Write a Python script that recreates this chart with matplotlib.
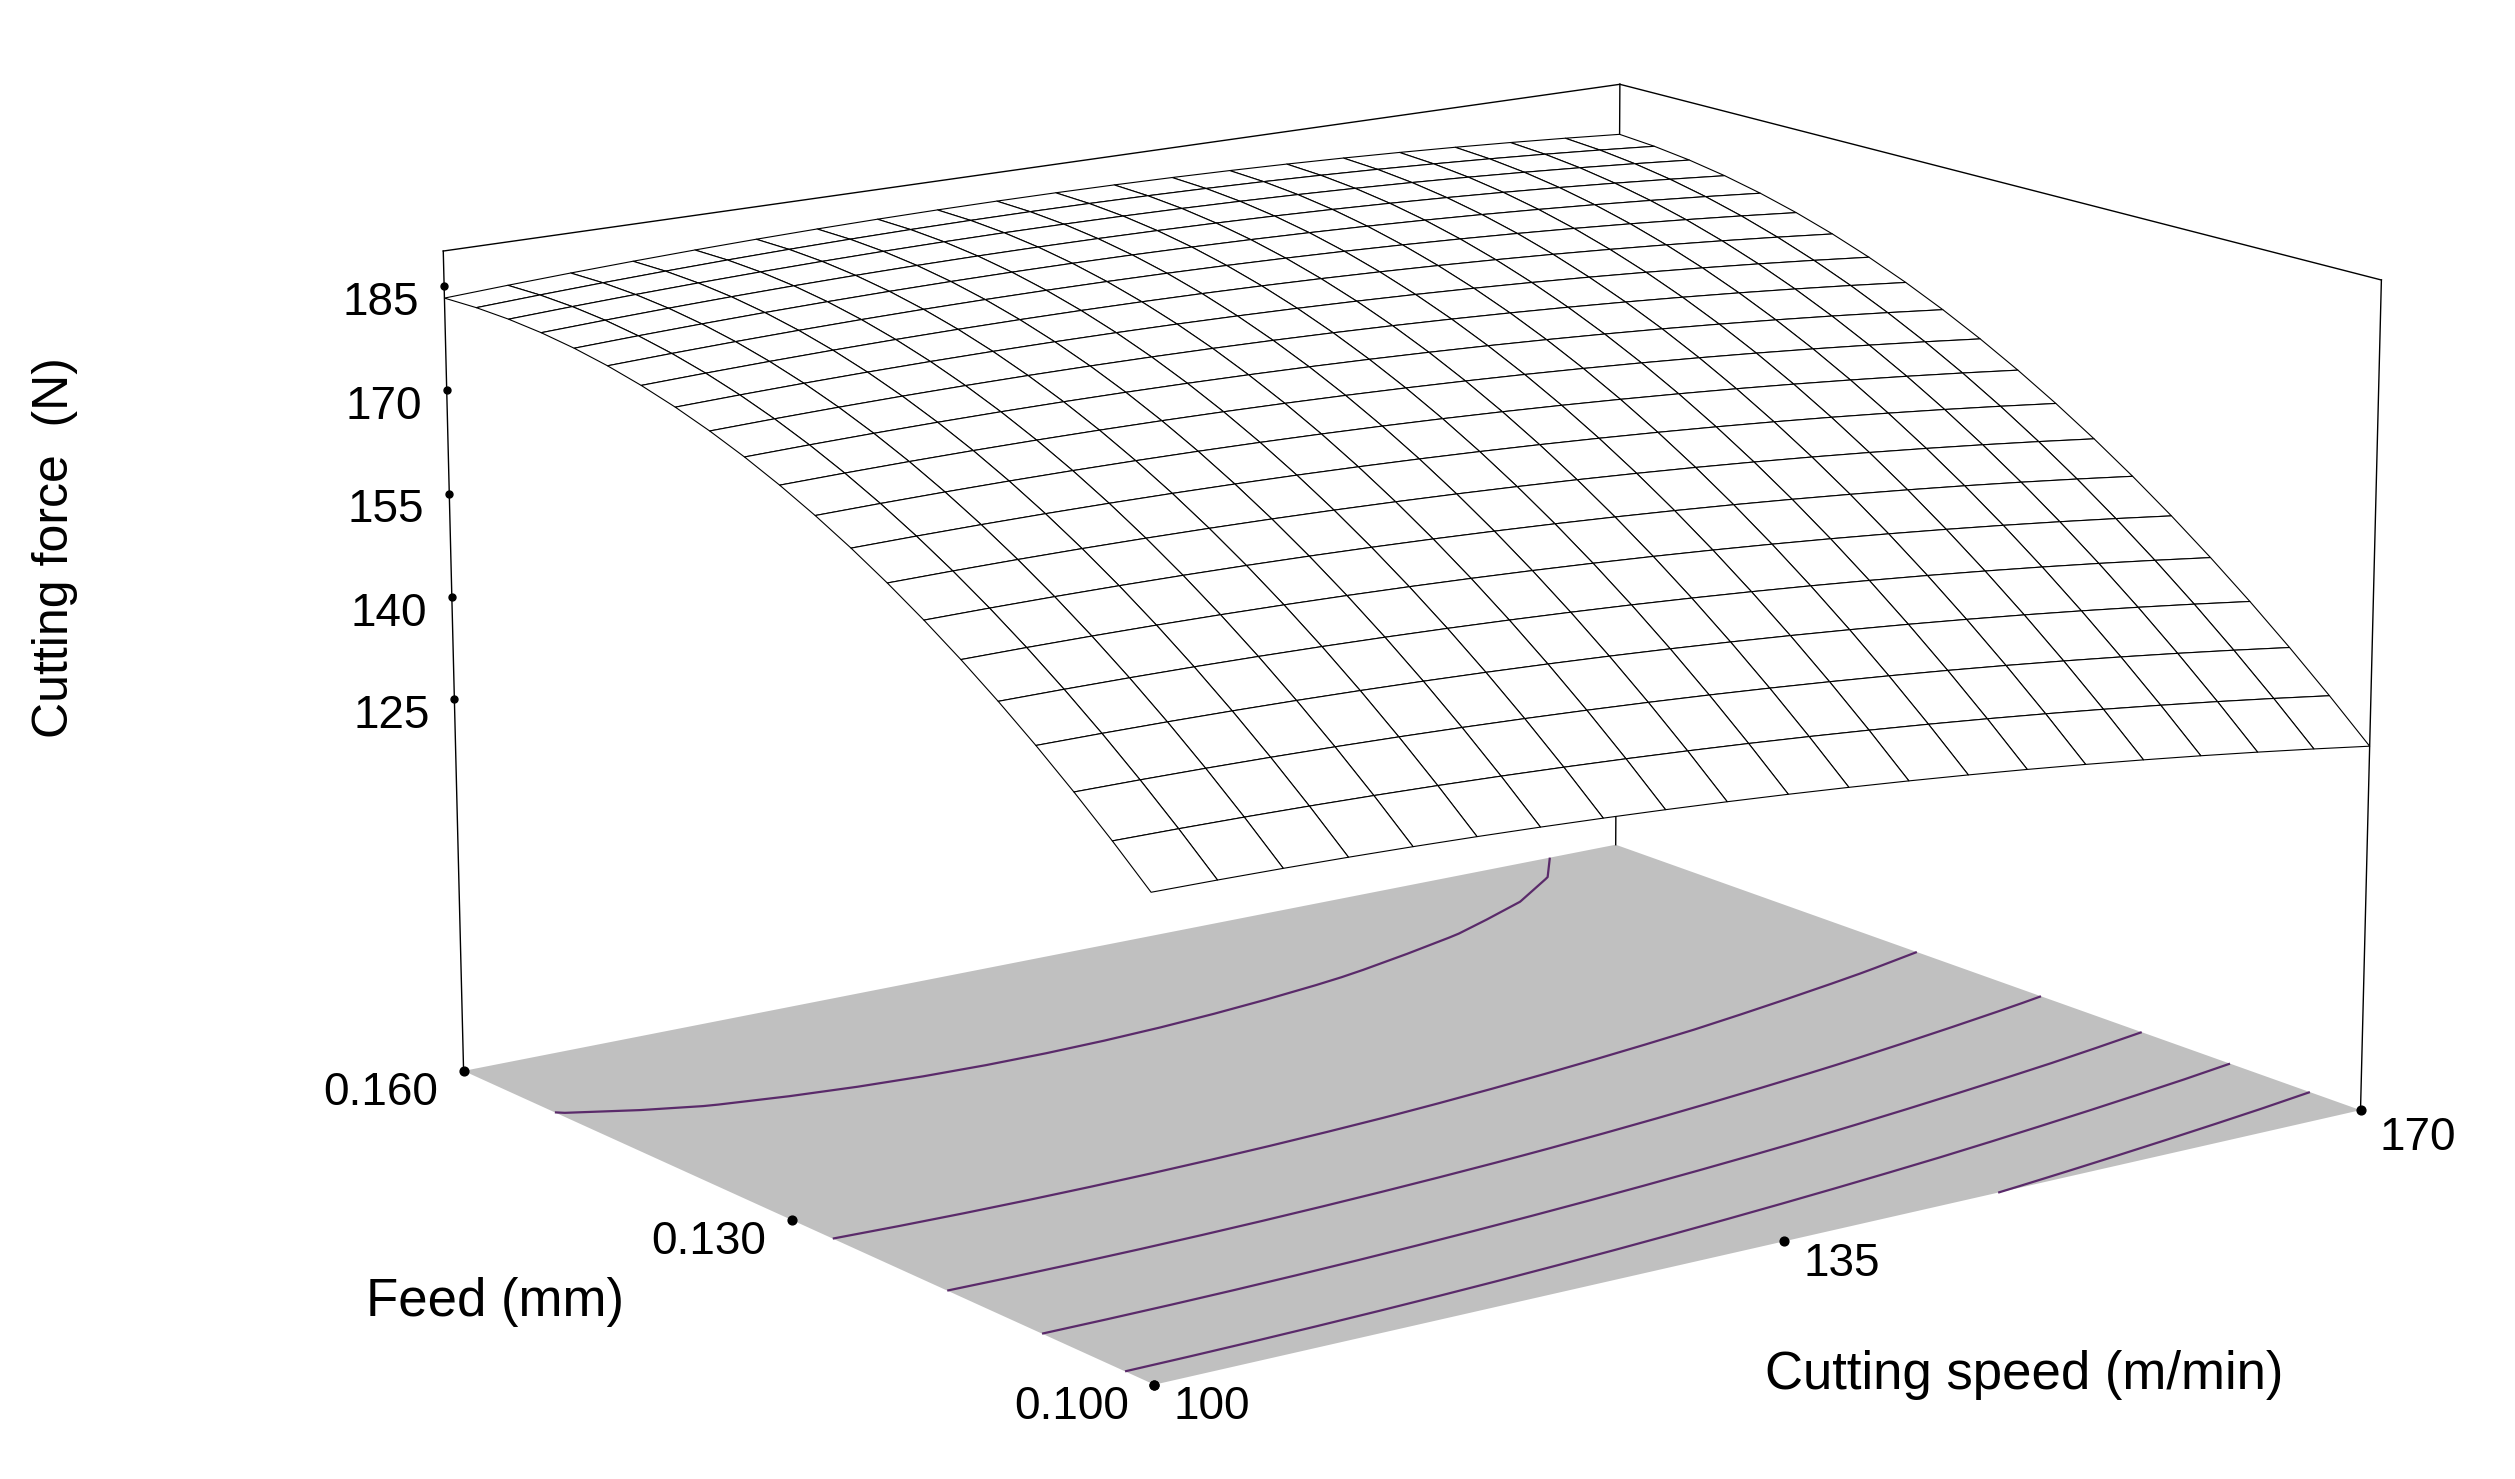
import numpy as np
import matplotlib
matplotlib.use("Agg")
import matplotlib.pyplot as plt
from mpl_toolkits.mplot3d import proj3d

plt.rcParams["font.family"] = ["Liberation Sans", "DejaVu Sans"]

# axis ranges / ticks
speed_range = [100, 170]
feed_range = [0.100, 0.160]
speed_ticks = [100, 135, 170]
feed_ticks = [0.100, 0.130, 0.160]
force_ticks = [125, 140, 155, 170, 185]
z_floor, z_top = 70, 190
# quadratic response model coefficients (coded units)
coef_names = ["b0", "b1", "b2", "b11", "b22", "b12"]
coef_vals = [172.5, -3.5, 26.5, -3.0, -13.25, 3.0]
contour_levels = [130, 140, 150, 160, 170, 183]

b = dict(zip(coef_names, coef_vals))
s = np.linspace(*speed_range, 21)
f = np.linspace(*feed_range, 21)
S, Fd = np.meshgrid(s, f)
x1 = (S - 135) / 35
x2 = (Fd - 0.13) / 0.03
Z = (b["b0"] + b["b1"] * x1 + b["b2"] * x2 + b["b11"] * x1**2
     + b["b22"] * x2**2 + b["b12"] * x1 * x2)

fig = plt.figure(figsize=(25.15, 14.79), dpi=100)
ax = fig.add_axes([0.028, -0.17, 1.04, 1.38], projection="3d", proj_type="persp", focal_length=0.9)
ax.computed_zorder = False
ax.set_axis_off()
ax.view_init(elev=14.5, azim=-126)
ax.set_xlim(*speed_range); ax.set_ylim(*feed_range); ax.set_zlim(z_floor, z_top)
ax.set_box_aspect((1.45, 1.22, 0.84))

# floor
xs0, xs1 = speed_range; ys0, ys1 = feed_range
ax.plot_surface(np.array([[xs0, xs1], [xs0, xs1]]), np.array([[ys0, ys0], [ys1, ys1]]),
                np.full((2, 2), z_floor), color="#c0c0c0", shade=False, zorder=0)
ax.contour(S, Fd, Z, levels=contour_levels, offset=z_floor, colors="#5a2a6a", linewidths=1.6, zorder=1)

# box edges
lk = dict(color="black", lw=1.0, zorder=2)
for (x, y) in [(xs0, ys1), (xs1, ys1), (xs1, ys0)]:
    ax.plot([x, x], [y, y], [z_floor, z_top], **lk)
ax.plot([xs0, xs1], [ys1, ys1], [z_top, z_top], **lk)
ax.plot([xs1, xs1], [ys0, ys1], [z_top, z_top], **lk)

ax.plot_surface(S, Fd, Z, color="white", edgecolor="black", linewidth=0.8, shade=False, zorder=5)

fig.canvas.draw()
M = ax.get_proj()

def label(x, y, z, txt, dx, dy, ha):
    px, py, _ = proj3d.proj_transform(x, y, z, M)
    ax.annotate(txt, (px, py), xycoords="data", xytext=(dx, dy), textcoords="offset points",
                fontsize=33, ha=ha, va="center")

for t in force_ticks:
    ax.scatter([xs0], [ys1], [t], color="black", s=25, zorder=6)
    label(xs0, ys1, t, str(t), -18, -12, "right")
for t in feed_ticks:
    ax.scatter([xs0], [t], [z_floor], color="black", s=40, zorder=6)
    label(xs0, t, z_floor, f"{t:.3f}", -18, -16, "right")
for t in speed_ticks:
    ax.scatter([t], [ys0], [z_floor], color="black", s=40, zorder=6)
    label(t, ys0, z_floor, str(t), 14, -16 if t != 170 else -20, "left")

fig.text(0.022, 0.63, "Cutting force  (N)", rotation=90, fontsize=36, ha="center", va="center")
fig.text(0.197, 0.12, "Feed (mm)", fontsize=38, ha="center", va="center")
fig.text(0.805, 0.07, "Cutting speed (m/min)", fontsize=38, ha="center", va="center")

fig.savefig("out.png", dpi=100)
